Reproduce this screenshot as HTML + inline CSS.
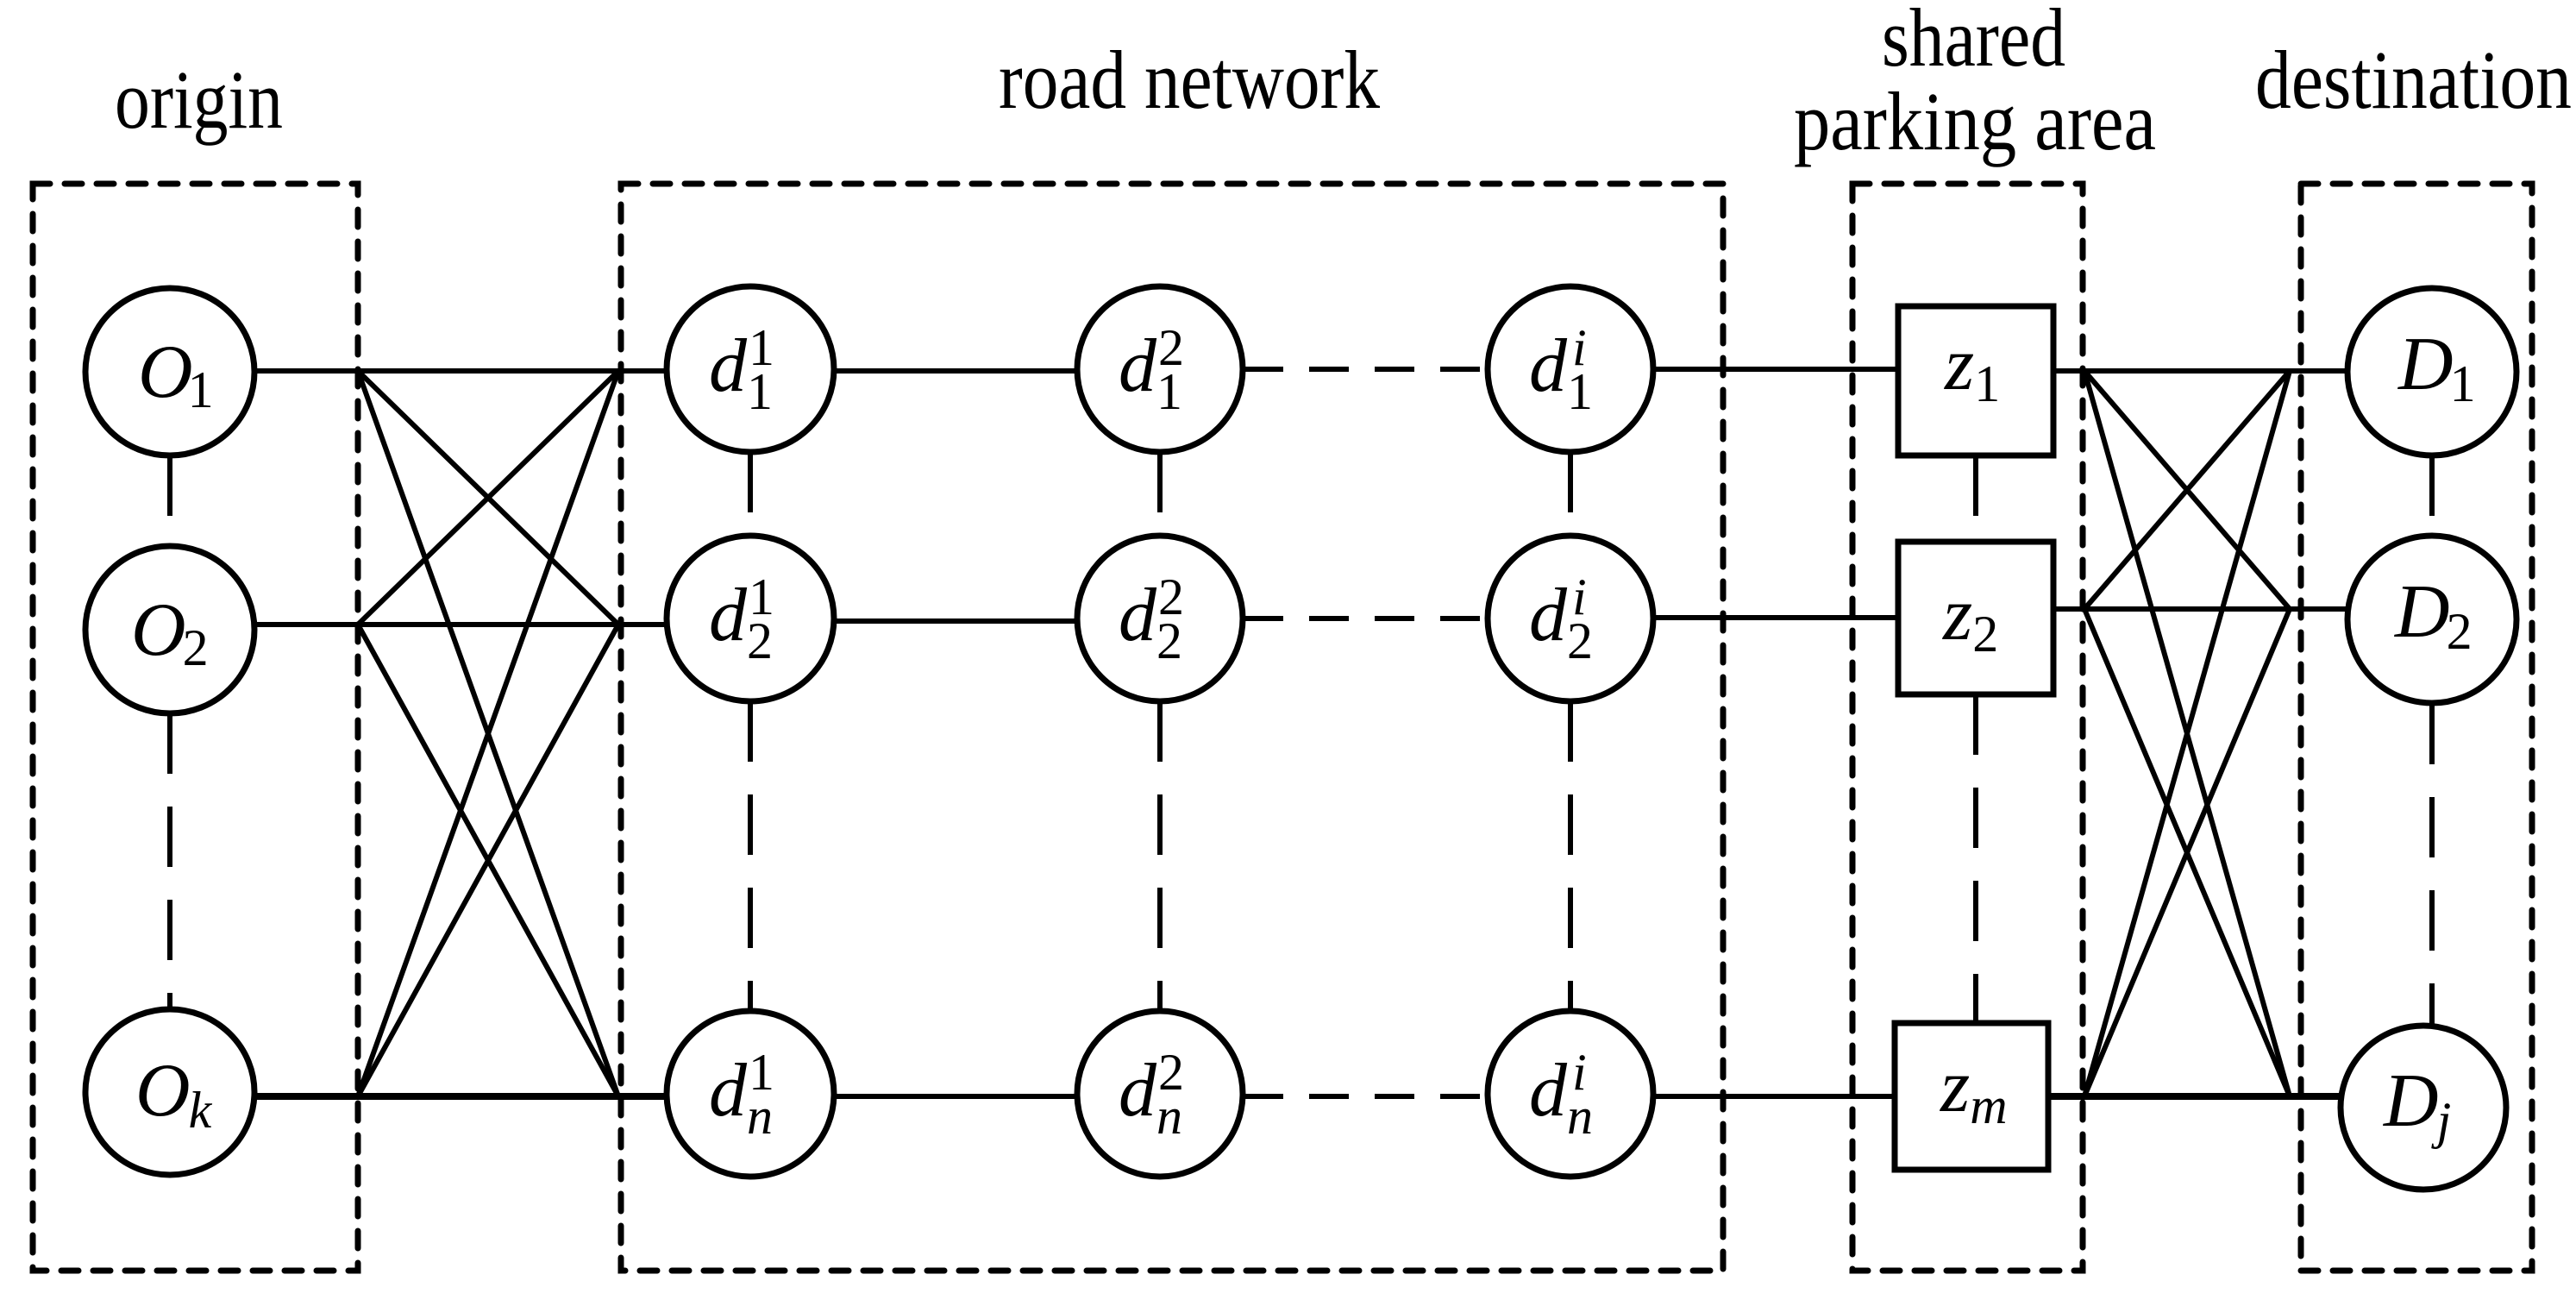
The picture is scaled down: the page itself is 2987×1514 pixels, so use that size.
<!DOCTYPE html>
<html><head><meta charset="utf-8"><style>html,body{margin:0;padding:0;background:#fff}svg{display:block}</style></head>
<body>
<svg width="2987" height="1514" viewBox="0 0 2987 1514" xmlns="http://www.w3.org/2000/svg" font-family="'Liberation Serif', serif">
<rect width="2987" height="1514" fill="#fff"/>
<g fill="none" stroke="#000" stroke-width="7" stroke-dasharray="20 17" stroke-linecap="round">
<rect x="38" y="213" width="377" height="1260"/>
<rect x="720" y="213" width="1278" height="1260"/>
<rect x="2148" y="213" width="267" height="1260"/>
<rect x="2668" y="213" width="268" height="1260"/>
</g>
<g fill="#000" font-size="96">
<text x="133" y="148" textLength="195" lengthAdjust="spacingAndGlyphs">origin</text>
<text x="1158" y="125" textLength="442" lengthAdjust="spacingAndGlyphs">road network</text>
<text x="2182" y="76" textLength="213" lengthAdjust="spacingAndGlyphs">shared</text>
<text x="2080" y="173" textLength="420" lengthAdjust="spacingAndGlyphs">parking area</text>
<text x="2615" y="125" textLength="367" lengthAdjust="spacingAndGlyphs">destination</text>
</g>
<g stroke="#000" stroke-width="6" fill="none">
<line x1="295" y1="430" x2="773" y2="430"/>
<line x1="295" y1="724" x2="773" y2="724"/>
<line x1="295" y1="1271" x2="773" y2="1271" stroke-width="8"/>
<line x1="966" y1="430" x2="1249" y2="430"/>
<line x1="966" y1="720" x2="1249" y2="720"/>
<line x1="966" y1="1271" x2="1249" y2="1271"/>
<line x1="1917" y1="428" x2="2201" y2="428"/>
<line x1="1917" y1="716" x2="2201" y2="716"/>
<line x1="1917" y1="1271" x2="2197" y2="1271"/>
<line x1="2381" y1="430" x2="2722" y2="430"/>
<line x1="2381" y1="706" x2="2722" y2="706"/>
<line x1="2375" y1="1271" x2="2712" y2="1271" stroke-width="8"/>
<line x1="415" y1="430" x2="717" y2="724"/>
<line x1="415" y1="430" x2="717" y2="1271"/>
<line x1="415" y1="724" x2="717" y2="430"/>
<line x1="415" y1="724" x2="717" y2="1271"/>
<line x1="415" y1="1271" x2="717" y2="430"/>
<line x1="415" y1="1271" x2="717" y2="724"/>
<line x1="2417" y1="430" x2="2655" y2="706"/>
<line x1="2417" y1="430" x2="2655" y2="1271"/>
<line x1="2417" y1="706" x2="2655" y2="430"/>
<line x1="2417" y1="706" x2="2655" y2="1271"/>
<line x1="2417" y1="1271" x2="2655" y2="430"/>
<line x1="2417" y1="1271" x2="2655" y2="706"/>
</g>
<g stroke="#000" stroke-width="6" fill="none" stroke-dasharray="46 30">
<line x1="1442" y1="428" x2="1725" y2="428"/>
<line x1="1442" y1="717" x2="1725" y2="717"/>
<line x1="1442" y1="1271" x2="1725" y2="1271"/>
</g>
<g stroke="#000" stroke-width="6" fill="none" stroke-dasharray="70 38">
<line x1="197" y1="528" x2="197" y2="634"/>
<line x1="197" y1="827" x2="197" y2="1170"/>
<line x1="870" y1="524" x2="870" y2="621"/>
<line x1="870" y1="813" x2="870" y2="1172"/>
<line x1="1345" y1="524" x2="1345" y2="621"/>
<line x1="1345" y1="813" x2="1345" y2="1172"/>
<line x1="1821" y1="524" x2="1821" y2="621"/>
<line x1="1821" y1="813" x2="1821" y2="1172"/>
<line x1="2291" y1="528" x2="2291" y2="628"/>
<line x1="2291" y1="805" x2="2291" y2="1186"/>
<line x1="2820" y1="528" x2="2820" y2="620"/>
<line x1="2820" y1="816" x2="2820" y2="1187"/>
</g>
<g stroke="#000" stroke-width="7" fill="#fff">
<ellipse cx="197" cy="431" rx="98" ry="97"/>
<ellipse cx="197" cy="730" rx="98" ry="97"/>
<ellipse cx="197" cy="1266" rx="98" ry="96"/>
<ellipse cx="870" cy="428" rx="97" ry="96"/>
<ellipse cx="870" cy="717" rx="97" ry="96"/>
<ellipse cx="870" cy="1268" rx="97" ry="96"/>
<ellipse cx="1345" cy="428" rx="96" ry="96"/>
<ellipse cx="1345" cy="717" rx="96" ry="96"/>
<ellipse cx="1345" cy="1268" rx="96" ry="96"/>
<ellipse cx="1821" cy="428" rx="96" ry="96"/>
<ellipse cx="1821" cy="717" rx="96" ry="96"/>
<ellipse cx="1821" cy="1268" rx="96" ry="96"/>
<rect x="2201" y="355" width="180" height="173"/>
<rect x="2201" y="628" width="180" height="177"/>
<rect x="2197" y="1186" width="178" height="170"/>
<ellipse cx="2820" cy="431" rx="98" ry="97"/>
<ellipse cx="2820" cy="718" rx="98" ry="97"/>
<ellipse cx="2810" cy="1284" rx="96" ry="95"/>
</g>
<g fill="#000" font-size="88" font-style="italic">
<text x="160" y="460">O<tspan font-style="normal" font-size="60" dx="-6" dy="12">1</tspan></text>
<text x="152" y="759">O<tspan font-size="60" font-style="normal" dx="-4" dy="12">2</tspan></text>
<text x="157" y="1293">O<tspan font-size="60" dx="-2" dy="14">k</tspan></text>
</g>
<g fill="#000" font-style="italic">
<g font-size="88">
<text x="822" y="453">d</text><text x="822" y="742">d</text><text x="822" y="1293">d</text>
<text x="1297" y="453">d</text><text x="1297" y="742">d</text><text x="1297" y="1293">d</text>
<text x="1773" y="453">d</text><text x="1773" y="742">d</text><text x="1773" y="1293">d</text>
</g>
<g font-size="60" font-style="normal">
<text x="868" y="423">1</text><text x="866" y="474">1</text>
<text x="868" y="712">1</text><text x="866" y="763">2</text>
<text x="868" y="1263">1</text><text x="866" y="1314" font-style="italic">n</text>
<text x="1343" y="423">2</text><text x="1341" y="474">1</text>
<text x="1343" y="712">2</text><text x="1341" y="763">2</text>
<text x="1343" y="1263">2</text><text x="1341" y="1314" font-style="italic">n</text>
<text x="1823" y="423" font-style="italic">i</text><text x="1817" y="474">1</text>
<text x="1823" y="712" font-style="italic">i</text><text x="1817" y="763">2</text>
<text x="1823" y="1263" font-style="italic">i</text><text x="1817" y="1314" font-style="italic">n</text>
</g>
<text x="2255" y="451" font-size="88">z<tspan font-size="60" font-style="normal" dy="14">1</tspan></text>
<text x="2253" y="741" font-size="88">z<tspan font-size="60" font-style="normal" dy="14">2</tspan></text>
<text x="2250" y="1288" font-size="88">z<tspan font-size="60" dy="14">m</tspan></text>
<text x="2781" y="451" font-size="88">D<tspan font-size="60" font-style="normal" dx="-4" dy="14">1</tspan></text>
<text x="2777" y="738" font-size="88">D<tspan font-size="60" font-style="normal" dx="-4" dy="14">2</tspan></text>
<text x="2764" y="1305" font-size="88">D<tspan font-size="60" dx="-2" dy="14">j</tspan></text>
</g>
</svg>
</body></html>
